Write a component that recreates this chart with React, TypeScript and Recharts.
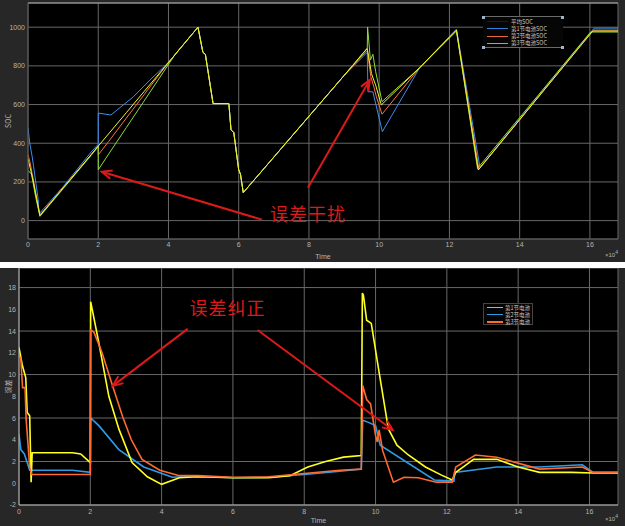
import { LineChart, Line, XAxis, YAxis, CartesianGrid, ReferenceLine, ReferenceDot, Legend } from "recharts";

type Pt = [number, number];

const timeTicks = [0, 2, 4, 6, 8, 10, 12, 14, 16];
const socTicks = [0, 200, 400, 600, 800, 1000];
const errTicks = [-2, 0, 2, 4, 6, 8, 10, 12, 14, 16, 18];

const socNames = ["平均SOC", "第1节电池SOC", "第2节电池SOC", "第3节电池SOC"];
const errNames = ["第1节电池", "第2节电池", "第3节电池"];

// shared stretch of the SOC curves (all cells overlap here), time in 1e4 s
const socShared: Pt[] = [
  [4.84, 1000], [4.98, 870], [5.05, 860], [5.27, 605], [5.72, 605], [5.78, 470],
  [5.86, 455], [6.0, 262], [6.05, 240], [6.13, 145], [9.0, 750],
];

const socAvg: Pt[] = [
  [0, 320], [0.15, 205], [0.25, 110], [0.34, 26], [1.0, 169], [1.8, 341], [2.0, 385],
  [2.8, 558], [3.3, 666], [3.8, 774], [4.1, 839],
  ...socShared,
  [9.66, 890], [9.78, 760], [9.9, 700], [10.06, 598], [11.15, 790], [12.2, 985],
  [12.82, 262], [16.08, 980], [16.8, 980],
];
const socCell1: Pt[] = [
  [0, 480], [0.05, 400], [0.12, 330], [0.29, 110], [0.31, 45], [0.34, 40], [1.0, 175],
  [1.8, 355], [2.0, 395], [2.001, 556], [2.36, 546], [3.0, 640], [3.47, 727], [3.9, 800],
  [4.1, 839],
  ...socShared,
  [9.66, 870], [9.68, 666], [9.82, 666], [10.09, 460], [11.15, 790], [12.2, 990],
  [12.87, 275], [16.12, 995], [16.8, 995],
];
const socCell2: Pt[] = [
  [0, 340], [0.06, 300], [0.2, 160], [0.34, 30], [1.0, 170], [1.8, 342], [2.0, 388],
  [2.001, 340], [2.3, 410], [2.8, 530], [3.3, 650], [3.8, 770], [4.15, 850],
  ...socShared,
  [9.66, 880], [9.7, 830], [9.76, 745], [9.85, 690], [9.92, 640], [10.08, 550],
  [11.15, 790], [12.2, 985], [12.84, 265], [16.1, 985], [16.8, 985],
];
const socCell3: Pt[] = [
  [0, 260], [0.1, 240], [0.22, 120], [0.34, 22], [1.0, 165], [1.8, 338], [2.0, 383],
  [2.001, 263], [2.3, 345], [2.8, 481], [3.3, 617], [3.8, 753], [4.2, 862],
  ...socShared,
  [9.66, 892], [9.67, 1000], [9.75, 830], [9.82, 860], [9.9, 770], [10.08, 615],
  [11.15, 790], [12.2, 980], [12.8, 270], [16.02, 975], [16.8, 975],
];

// error curves
const errCell1: Pt[] = [
  [0, 12.5], [0.09, 10.9], [0.19, 9.7], [0.23, 6.5], [0.3, 6.2], [0.34, 0.1], [0.37, 2.8],
  [1.5, 2.8], [1.73, 2.7], [2.0, 1.9], [2.01, 16.7], [2.24, 12.9], [2.52, 8.0], [2.8, 5.0],
  [3.17, 1.9], [3.6, 0.6], [4.0, -0.1], [4.5, 0.5], [5, 0.6], [6, 0.5], [7, 0.5],
  [7.6, 0.7], [8.1, 1.5], [8.6, 2.0], [9.1, 2.4], [9.6, 2.55], [9.63, 17.5], [9.66, 17.3],
  [9.75, 15.0], [9.88, 14.7], [10.1, 10.2], [10.36, 5.0], [10.6, 3.5], [10.92, 2.6],
  [11.4, 1.5], [11.85, 0.75], [12.15, 0.3], [12.25, 1.0], [12.5, 1.6], [12.75, 2.2],
  [13.4, 2.2], [14.0, 1.5], [14.6, 1.0], [15.5, 1.0], [16.1, 0.95], [16.8, 0.95],
];
const errCell2: Pt[] = [
  [0, 4.5], [0.05, 3.1], [0.15, 2.7], [0.3, 1.2], [1.5, 1.2], [2.0, 1.0], [2.01, 6.0],
  [2.24, 5.3], [2.8, 3.1], [3.5, 1.5], [4.3, 0.55], [5, 0.65], [6, 0.5], [7, 0.55],
  [8, 0.8], [9, 1.1], [9.6, 1.3], [9.64, 5.8], [9.8, 5.6], [10.0, 5.3], [10.13, 3.5],
  [11.65, 0.3], [12.2, 0.2], [12.22, 1.0], [13.4, 1.5], [14.6, 1.5], [15.8, 1.7],
  [16.1, 1.0], [16.8, 1.0],
];
const errCell3: Pt[] = [
  [0, 11.7], [0.05, 11.5], [0.1, 8.8], [0.17, 8.8], [0.2, 5.9], [0.3, 1.5], [0.35, 0.8],
  [2.0, 0.8], [2.01, 14.1], [2.1, 13.9], [2.33, 12.0], [2.63, 8.9], [2.91, 6.1],
  [3.15, 4.0], [3.45, 2.2], [3.95, 1.2], [4.5, 0.7], [5, 0.7], [6, 0.55], [7, 0.6],
  [8, 0.9], [9, 1.2], [9.6, 1.3], [9.64, 9.0], [9.75, 7.7], [9.86, 7.3], [10.0, 4.4],
  [10.05, 3.8], [10.1, 4.9], [10.2, 3.0], [10.5, 0.1], [10.8, 0.55], [11.2, 0.5],
  [11.7, 0.1], [12.15, 0.1], [12.25, 1.5], [12.8, 2.6], [13.4, 2.4], [14.6, 1.3],
  [15.8, 1.5], [16.1, 1.0], [16.8, 1.0],
];

const SOC_COLORS = ["#f2f230", "#3c8ff0", "#ff7040", "#8fdc3c"];
const ERR_COLORS = ["#ffff22", "#2e9be6", "#ff6a30"];
const RED = "#dc1a1a";
const GRID = "#686868";
const TICK = { fill: "#b4b4b4", fontSize: 7, fontFamily: "Liberation Sans" };

const rows = (pts: Pt[]) => pts.map(([t, v]) => ({ t, v }));

// red annotation arrow, drawn from the segment ends given by the ReferenceLine
const Arrow = (props: any) => {
  const { x1, y1, x2, y2 } = props;
  const a = Math.atan2(y2 - y1, x2 - x1);
  const len = 11;
  const s = 0.4;
  const p1 = `${x2 - len * Math.cos(a - s)},${y2 - len * Math.sin(a - s)}`;
  const p2 = `${x2 - len * Math.cos(a + s)},${y2 - len * Math.sin(a + s)}`;
  return (
    <g>
      <line x1={x1} y1={y1} x2={x2} y2={y2} stroke={RED} strokeWidth={2} />
      <polyline points={`${p1} ${x2},${y2} ${p2}`} fill="none" stroke={RED} strokeWidth={2} />
    </g>
  );
};

const note = (text: string) => (p: any) => (
  <text x={p.cx} y={p.cy} fill={RED} fontSize={18} textAnchor="middle" dominantBaseline="central"
    fontFamily="Noto Sans CJK SC" letterSpacing={1}>
    {text}
  </text>
);

const timeLabel = (p: any) => {
  const { x, y, width, height } = p.viewBox;
  return (
    <g fill="#b4b4b4" fontFamily="Liberation Sans">
      <text x={x + width / 2} y={y + height - 3} fontSize={7} textAnchor="middle">Time</text>
      <text x={x + width} y={y + height - 5} fontSize={6} textAnchor="end">
        ×10<tspan dy={-3} fontSize={5}>4</tspan>
      </text>
    </g>
  );
};

const yLabel = (text: string) => (p: any) => {
  const { y, height } = p.viewBox;
  const cy = y + height / 2;
  return (
    <text x={8} y={cy} fill="#b4b4b4" fontSize={7} textAnchor="middle" fontFamily="Noto Sans CJK SC"
      transform={`rotate(-90 8 ${cy})`} dominantBaseline="central">
      {text}
    </text>
  );
};

const SocLegend = () => (
  <div style={{ position: "relative", width: 80, height: 32, background: "#060606",
    borderTop: "1px solid #6a6a6a", borderBottom: "1px solid #6a6a6a", boxSizing: "border-box",
    fontFamily: "Noto Sans CJK SC", fontSize: 5.5, color: "#c8c8c8" }}>
    {[[-1, -1], [78, -1], [-1, 29], [78, 29]].map(([l, t], i) => (
      <span key={i} style={{ position: "absolute", left: l, top: t, width: 3, height: 3, background: "#9fb4c8" }} />
    ))}
    {socNames.map((n, i) => (
      <div key={n} style={{ position: "absolute", top: 1 + i * 7.3, left: 0, height: 7, display: "flex", alignItems: "center" }}>
        <span style={{ display: "inline-block", width: 21, height: 1, marginLeft: 4, marginRight: 3,
          background: SOC_COLORS[i], opacity: i === 0 ? 0.1 : 0.9 }} />
        <span style={{ whiteSpace: "nowrap" }}>{n}</span>
      </div>
    ))}
  </div>
);

const ErrLegend = () => (
  <div style={{ position: "relative", width: 50, height: 22, background: "#050505",
    border: "1px solid #444", boxSizing: "border-box", fontFamily: "Noto Sans CJK SC",
    fontSize: 5.5, color: "#c8c8c8" }}>
    {errNames.map((n, i) => (
      <div key={n} style={{ position: "absolute", top: 0 + i * 7.2, left: 0, height: 7, display: "flex", alignItems: "center" }}>
        <span style={{ display: "inline-block", width: 16, height: 1.5, marginLeft: 3, marginRight: 2,
          background: i === 0 ? "#c8b84a" : ERR_COLORS[i] }} />
        <span style={{ whiteSpace: "nowrap" }}>{n}</span>
      </div>
    ))}
  </div>
);

export default function App() {
  const socSeries = [socAvg, socCell1, socCell2, socCell3];
  const errSeries = [errCell2, errCell1, errCell3];
  const errColor = [ERR_COLORS[1], ERR_COLORS[0], ERR_COLORS[2]];

  return (
    <div style={{ position: "absolute", left: 0, top: 0, width: 625, height: 526, background: "#fff" }}>
      <div style={{ position: "absolute", left: 0, top: 0, width: 625, height: 262, background: "#272727" }}>
        <LineChart width={625} height={262} margin={{ top: 3, right: 7, bottom: 0, left: 0 }}>
          <CartesianGrid stroke={GRID} fill="#000" />
          <XAxis type="number" dataKey="t" domain={[0, 16.8]} ticks={timeTicks} height={23}
            tick={TICK} tickSize={0} tickMargin={3} axisLine={{ stroke: "#555" }}
            allowDataOverflow label={{ content: timeLabel }} />
          <YAxis type="number" dataKey="v" domain={[-95, 1125]} ticks={socTicks} width={28}
            tick={TICK} tickSize={0} tickMargin={3} axisLine={{ stroke: "#555" }}
            allowDataOverflow label={{ content: yLabel("SOC") }} />
          <ReferenceLine y={1125} stroke="#a8a8a8" />
          {[socCell1, socCell2, socCell3, socAvg].map((d, i) => {
            const idx = socSeries.indexOf(d);
            return (
              <Line key={i} data={rows(d)} dataKey="v" name={socNames[idx]} type="linear"
                stroke={SOC_COLORS[idx]} strokeWidth={1} dot={false} isAnimationActive={false} />
            );
          })}
          <ReferenceLine segment={[{ x: 6.66, y: 5 }, { x: 2.1, y: 253 }]} shape={Arrow} />
          <ReferenceLine segment={[{ x: 7.97, y: 170 }, { x: 9.73, y: 727 }]} shape={Arrow} />
          <ReferenceDot x={7.97} y={41} r={1} shape={note("误差干扰")} />
          <Legend layout="vertical" align="center" verticalAlign="middle" content={SocLegend}
            wrapperStyle={{ left: 483, top: 16, width: 80, height: 32 }} />
        </LineChart>
      </div>
      <div style={{ position: "absolute", left: 0, top: 268, width: 625, height: 258, background: "#272727" }}>
        <LineChart width={625} height={258} margin={{ top: 0, right: 7, bottom: 0, left: 0 }}>
          <CartesianGrid stroke={GRID} fill="#000" />
          <XAxis type="number" dataKey="t" domain={[0, 16.8]} ticks={timeTicks} height={21}
            tick={TICK} tickSize={0} tickMargin={4} axisLine={{ stroke: "#b0b0b0" }}
            allowDataOverflow label={{ content: timeLabel }} />
          <YAxis type="number" dataKey="v" domain={[-2, 19.8]} ticks={errTicks} width={19}
            tick={TICK} tickSize={0} tickMargin={3} axisLine={{ stroke: "#b0b0b0" }}
            allowDataOverflow label={{ content: yLabel("误差") }} />
          {errSeries.map((d, i) => (
            <Line key={i} data={rows(d)} dataKey="v" name={errNames[[1, 0, 2][i]]} type="linear"
              stroke={errColor[i]} strokeWidth={1.6} dot={false} isAnimationActive={false} />
          ))}
          <ReferenceLine segment={[{ x: 4.73, y: 14.2 }, { x: 2.63, y: 8.96 }]} shape={Arrow} />
          <ReferenceLine segment={[{ x: 6.69, y: 14.1 }, { x: 10.48, y: 4.9 }]} shape={Arrow} />
          <ReferenceDot x={5.85} y={16.2} r={1} shape={note("误差纠正")} />
          <Legend layout="vertical" align="center" verticalAlign="middle" content={ErrLegend}
            wrapperStyle={{ left: 483, top: 35, width: 50, height: 22 }} />
        </LineChart>
      </div>
    </div>
  );
}
